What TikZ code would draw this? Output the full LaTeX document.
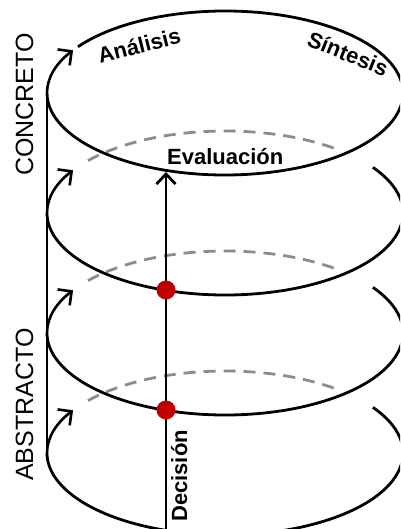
\documentclass[tikz,border=0pt]{standalone}
\usepackage{fontspec}
\setmainfont{Liberation Sans}
\usetikzlibrary{arrows.meta,calc}
\definecolor{dotred}{RGB}{192,0,0}
\definecolor{dashgray}{RGB}{140,140,140}
\begin{document}
\begin{tikzpicture}[x=1pt,y=-1pt,
  ring/.style={line width=2.8pt, black},
  backring/.style={line width=2.8pt, dashgray, dash pattern=on 12pt off 8pt},
  barb/.style={line width=2.6pt, -{Straight Barb[length=10pt,width=20pt]}},
  lbl/.style={font=\fontsize{22}{26}\selectfont\bfseries, inner sep=0pt},
  axislbl/.style={font=\fontsize{25}{30}\selectfont, inner sep=0pt},
  dot/.style={circle, fill=dotred, minimum size=19pt, inner sep=0pt},
  er/.style={x radius=178pt, y radius=82pt}]
\useasboundingbox (0,0) rectangle (400,529);
\clip (0,0) rectangle (400,529);
\foreach \k in {0,1,2,3}{
  \coordinate (c\k) at (225,{93+120*\k});
}
% back (dashed) arcs
\foreach \k in {1,2,3}{
  \draw[backring] (c\k) ++(140.3:178pt and 82pt) arc[start angle=140.3, end angle=52, er];
}
% top ring
\draw[ring] (c0) ++(145.7:178pt and 82pt) arc[start angle=145.7, end angle=-180, er];
% lower rings
\foreach \k in {1,2,3}{
  \draw[ring] (c\k) ++(33.8:178pt and 82pt) arc[start angle=33.8, end angle=-180, er];
}
% arrows at left
\foreach \k in {0,1,2,3}{
  \draw[barb] (c\k) ++(180:178pt and 82pt) arc[start angle=180, end angle=148.6, er];
}
% left axis
\coordinate (l0) at (47,93);
\coordinate (l3) at (47,453);
\draw[ring] (l0) -- (l3);
% decision arrow
\coordinate (dbot) at (166,535);
\coordinate (dtop) at (166,172);
\draw[ring, -{Straight Barb[length=10pt,width=19pt]}] (dbot) -- (dtop);
\node[dot] (d1) at (166,290) {};
\node[dot] (d2) at (166,410) {};
% labels
\node[lbl, rotate=14, anchor=base] (ana) at (141,53) {Análisis};
\node[lbl, rotate=-22, anchor=base] (sin) at (345,61) {Síntesis};
\node[lbl, anchor=base west] (eva) at (167,165) {Evaluación};
\node[lbl, rotate=90, anchor=base west] (dec) at (187,522) {Decisión};
\node[axislbl, rotate=90, anchor=base west] (con) at (33,176) {CONCRETO};
\node[axislbl, rotate=90, anchor=base west] (abs) at (33,481) {ABSTRACTO};
\end{tikzpicture}
\end{document}
